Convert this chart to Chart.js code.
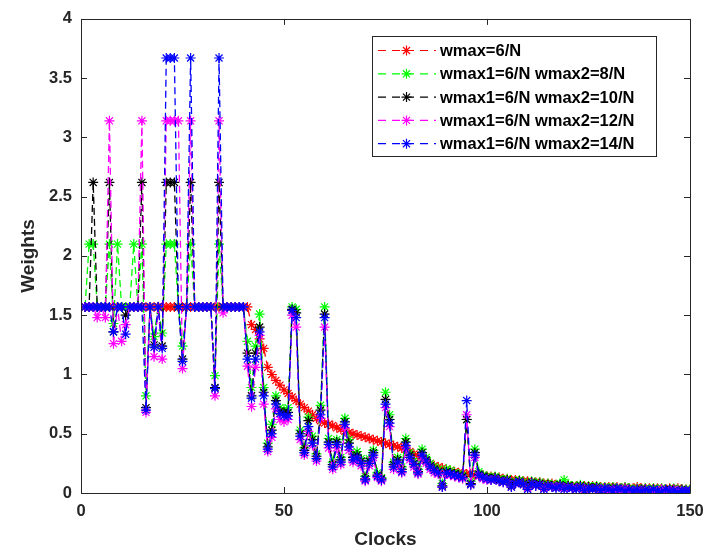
<!DOCTYPE html>
<html>
<head>
<meta charset="utf-8">
<script src="https://cdn.jsdelivr.net/npm/chart.js@4.4.0/dist/chart.umd.min.js"></script>
<style>
html,body{margin:0;padding:0;background:#fff}
canvas{display:block}
</style>
</head>
<body>
<canvas id="c" width="713" height="548"></canvas>
<script>
// Clock index (1..150) shared by every series
const clocks = Array.from({length: 150}, (_, i) => i + 1);
const xTicks = [0, 50, 100, 150];
const yTicks = [0, 0.5, 1, 1.5, 2, 2.5, 3, 3.5, 4];

const seriesNames = [
  'wmax=6/N',
  'wmax1=6/N wmax2=8/N',
  'wmax1=6/N wmax2=10/N',
  'wmax1=6/N wmax2=12/N',
  'wmax1=6/N wmax2=14/N'
];
const seriesColors = ['#ff0000', '#00ff00', '#000000', '#ff00ff', '#0000ff'];

// wmax=6/N
const wSingle = [
  1.57,1.57,1.57,1.57,1.57,1.57,1.57,1.57,1.57,1.57,
  1.57,1.57,1.57,1.57,1.57,1.57,1.57,1.57,1.57,1.57,
  1.57,1.57,1.57,1.57,1.57,1.57,1.57,1.57,1.57,1.57,
  1.57,1.57,1.57,1.57,1.57,1.57,1.57,1.57,1.57,1.57,
  1.57,1.42,1.38,1.30,1.22,1.06,1.00,0.95,0.91,0.87,
  0.84,0.81,0.78,0.75,0.72,0.69,0.66,0.63,0.61,0.59,
  0.58,0.57,0.55,0.54,0.52,0.51,0.50,0.49,0.48,0.47,
  0.46,0.45,0.44,0.43,0.42,0.41,0.40,0.39,0.38,0.37,
  0.35,0.33,0.31,0.29,0.27,0.25,0.23,0.22,0.21,0.20,
  0.19,0.18,0.17,0.17,0.16,0.16,0.15,0.15,0.15,0.14,
  0.14,0.13,0.13,0.12,0.12,0.11,0.11,0.10,0.10,0.10,
  0.09,0.09,0.09,0.08,0.08,0.08,0.07,0.07,0.07,0.07,
  0.06,0.06,0.06,0.06,0.05,0.06,0.05,0.05,0.05,0.05,
  0.05,0.05,0.04,0.05,0.04,0.04,0.05,0.04,0.04,0.04,
  0.04,0.04,0.04,0.03,0.04,0.03,0.04,0.03,0.03,0.03
];

// wmax1=6/N wmax2=8/N
const wPair8 = [
  1.57,2.10,2.10,1.57,1.57,1.57,2.10,1.43,2.10,1.57,
  1.57,1.57,2.10,1.57,2.10,0.82,1.57,1.32,1.57,1.35,
  2.10,2.10,2.10,1.57,1.24,1.57,2.10,1.57,1.57,1.57,
  1.57,1.57,0.99,2.10,1.57,1.57,1.57,1.57,1.57,1.57,
  1.28,0.89,1.24,1.51,0.89,0.42,0.58,0.82,0.72,0.70,
  0.72,1.57,1.55,0.53,0.38,0.64,0.48,0.33,0.74,1.57,
  0.46,0.26,0.45,0.30,0.63,0.45,0.33,0.35,0.29,0.14,
  0.29,0.36,0.17,0.13,0.85,0.66,0.26,0.30,0.22,0.46,
  0.34,0.27,0.20,0.37,0.30,0.25,0.22,0.20,0.08,0.20,
  0.19,0.17,0.16,0.15,0.62,0.10,0.37,0.18,0.15,0.14,
  0.13,0.14,0.12,0.11,0.12,0.07,0.10,0.11,0.09,0.06,
  0.10,0.08,0.09,0.05,0.08,0.07,0.06,0.08,0.11,0.07,
  0.06,0.05,0.07,0.04,0.06,0.05,0.06,0.04,0.05,0.04,
  0.05,0.04,0.04,0.05,0.04,0.03,0.04,0.03,0.04,0.03,
  0.04,0.03,0.04,0.03,0.03,0.04,0.03,0.03,0.03,0.03
];

// wmax1=6/N wmax2=10/N
const wPair10 = [
  1.57,1.57,2.62,1.57,1.57,1.57,2.62,1.36,1.57,1.57,
  1.50,1.57,1.57,1.57,2.62,0.72,1.57,1.25,1.57,1.24,
  2.62,2.62,2.62,1.57,1.13,1.57,2.62,1.57,1.57,1.57,
  1.57,1.57,0.89,2.62,1.57,1.57,1.57,1.57,1.57,1.57,
  1.18,0.82,1.18,1.40,0.85,0.39,0.53,0.78,0.69,0.68,
  0.68,1.55,1.52,0.50,0.36,0.61,0.45,0.31,0.70,1.51,
  0.43,0.24,0.43,0.28,0.60,0.42,0.30,0.32,0.27,0.12,
  0.27,0.34,0.15,0.12,0.79,0.62,0.24,0.28,0.20,0.43,
  0.32,0.25,0.18,0.34,0.28,0.23,0.20,0.18,0.06,0.18,
  0.17,0.16,0.15,0.14,0.62,0.08,0.34,0.16,0.14,0.13,
  0.12,0.13,0.11,0.10,0.11,0.06,0.09,0.10,0.08,0.05,
  0.09,0.07,0.08,0.04,0.07,0.06,0.05,0.07,0.05,0.06,
  0.05,0.04,0.06,0.03,0.05,0.04,0.05,0.03,0.04,0.03,
  0.04,0.03,0.03,0.04,0.03,0.02,0.03,0.03,0.03,0.02,
  0.03,0.02,0.03,0.02,0.03,0.03,0.02,0.03,0.02,0.02
];

// wmax1=6/N wmax2=12/N
const wPair12 = [
  1.57,1.57,1.57,1.48,1.57,1.48,3.14,1.26,1.57,1.28,
  1.42,1.57,1.57,1.57,3.14,0.68,1.57,1.15,1.57,1.13,
  3.14,3.14,3.14,3.14,1.05,1.57,3.14,1.57,1.57,1.57,
  1.57,1.57,0.82,3.14,1.52,1.57,1.57,1.57,1.57,1.57,
  1.07,0.73,1.06,1.33,0.75,0.35,0.47,0.71,0.62,0.60,
  0.62,1.50,1.40,0.45,0.32,0.52,0.40,0.27,0.63,1.40,
  0.38,0.20,0.38,0.24,0.55,0.36,0.26,0.28,0.23,0.10,
  0.23,0.30,0.13,0.10,0.72,0.56,0.20,0.24,0.17,0.38,
  0.28,0.22,0.16,0.30,0.25,0.20,0.17,0.16,0.05,0.16,
  0.15,0.14,0.13,0.12,0.66,0.07,0.30,0.14,0.12,0.11,
  0.11,0.12,0.10,0.09,0.10,0.05,0.08,0.09,0.07,0.04,
  0.08,0.06,0.07,0.04,0.06,0.05,0.05,0.06,0.04,0.05,
  0.04,0.04,0.05,0.03,0.04,0.03,0.04,0.03,0.04,0.02,
  0.03,0.03,0.02,0.04,0.02,0.02,0.03,0.02,0.03,0.02,
  0.02,0.02,0.03,0.02,0.02,0.03,0.02,0.02,0.02,0.02
];

// wmax1=6/N wmax2=14/N
const wPair14 = [
  1.57,1.57,1.57,1.57,1.57,1.57,1.57,1.36,1.57,1.57,
  1.34,1.57,1.57,1.57,1.57,0.70,1.57,1.23,1.57,1.22,
  3.67,3.67,3.67,1.57,1.11,1.57,3.67,1.57,1.57,1.57,
  1.57,1.57,0.88,3.67,1.57,1.57,1.57,1.57,1.57,1.57,
  1.13,0.80,1.13,1.36,0.82,0.37,0.50,0.75,0.67,0.65,
  0.65,1.54,1.48,0.48,0.34,0.56,0.42,0.29,0.66,1.48,
  0.41,0.22,0.41,0.26,0.58,0.39,0.28,0.30,0.25,0.11,
  0.25,0.32,0.14,0.11,0.75,0.59,0.22,0.26,0.18,0.40,
  0.30,0.24,0.17,0.32,0.27,0.22,0.19,0.17,0.05,0.17,
  0.16,0.15,0.14,0.13,0.78,0.07,0.32,0.15,0.13,0.12,
  0.11,0.12,0.10,0.09,0.10,0.05,0.08,0.09,0.07,0.03,
  0.08,0.06,0.07,0.03,0.06,0.05,0.04,0.06,0.03,0.05,
  0.04,0.03,0.05,0.02,0.04,0.03,0.04,0.02,0.04,0.03,
  0.02,0.04,0.03,0.02,0.03,0.02,0.03,0.01,0.03,0.02,
  0.03,0.02,0.01,0.03,0.02,0.02,0.01,0.02,0.02,0.02
];

const seriesValues = [wSingle, wPair8, wPair10, wPair12, wPair14];

const FONT = '"Liberation Sans", Arial, Helvetica, sans-serif';
const AXIS_COLOR = '#262626';

// Boxed axes with inward tick marks on all four sides
const boxAxes = {
  id: 'boxAxes',
  afterDatasetsDraw(chart) {
    const {ctx, chartArea: a, scales: {x, y}} = chart;
    const len = 6;
    ctx.save();
    ctx.strokeStyle = AXIS_COLOR;
    ctx.lineWidth = 1;
    ctx.beginPath();
    ctx.rect(Math.round(a.left) + 0.5, Math.round(a.top) + 0.5,
             Math.round(a.right - a.left), Math.round(a.bottom - a.top));
    x.ticks.forEach(t => {
      const px = Math.round(x.getPixelForValue(t.value)) + 0.5;
      ctx.moveTo(px, a.bottom); ctx.lineTo(px, a.bottom - len);
      ctx.moveTo(px, a.top); ctx.lineTo(px, a.top + len);
    });
    y.ticks.forEach(t => {
      const py = Math.round(y.getPixelForValue(t.value)) + 0.5;
      ctx.moveTo(a.left, py); ctx.lineTo(a.left + len, py);
      ctx.moveTo(a.right, py); ctx.lineTo(a.right - len, py);
    });
    ctx.stroke();
    ctx.restore();
  }
};

function drawAsterisk(ctx, cx, cy, r) {
  const d = r * Math.SQRT1_2;
  ctx.beginPath();
  ctx.moveTo(cx - r, cy); ctx.lineTo(cx + r, cy);
  ctx.moveTo(cx, cy - r); ctx.lineTo(cx, cy + r);
  ctx.moveTo(cx - d, cy - d); ctx.lineTo(cx + d, cy + d);
  ctx.moveTo(cx - d, cy + d); ctx.lineTo(cx + d, cy - d);
  ctx.stroke();
}

// Boxed legend in the upper right of the plot
const boxLegend = {
  id: 'boxLegend',
  afterDraw(chart) {
    const ctx = chart.ctx;
    const bx = 372.5, by = 36.5, bw = 284, bh = 120;
    ctx.save();
    ctx.fillStyle = '#ffffff';
    ctx.fillRect(bx, by, bw, bh);
    ctx.strokeStyle = AXIS_COLOR;
    ctx.lineWidth = 1;
    ctx.strokeRect(bx, by, bw, bh);
    ctx.font = 'bold 16.5px ' + FONT;
    ctx.textBaseline = 'middle';
    ctx.textAlign = 'left';
    seriesNames.forEach((name, i) => {
      const yy = 50.5 + i * 23.3;
      ctx.strokeStyle = seriesColors[i];
      ctx.lineWidth = 1.2;
      ctx.setLineDash([8, 6]);
      ctx.beginPath();
      ctx.moveTo(378, yy); ctx.lineTo(436, yy);
      ctx.stroke();
      ctx.setLineDash([]);
      drawAsterisk(ctx, 406.5, yy, 5);
      ctx.fillStyle = '#000000';
      ctx.fillText(name, 440, yy + 1);
    });
    ctx.restore();
  }
};

const datasets = seriesValues.map((vals, i) => ({
  label: seriesNames[i],
  data: clocks.map((c, k) => ({x: c, y: vals[k]})),
  borderColor: seriesColors[i],
  backgroundColor: seriesColors[i],
  borderWidth: 1.3,
  borderDash: [7, 4],
  pointStyle: 'star',
  pointRadius: 5,
  pointBorderWidth: 1.2,
  pointBorderColor: seriesColors[i],
  pointBackgroundColor: seriesColors[i],
  tension: 0,
  order: seriesNames.length - i
}));

new Chart(document.getElementById('c'), {
  type: 'line',
  data: {datasets},
  plugins: [boxAxes, boxLegend],
  options: {
    responsive: false,
    animation: false,
    devicePixelRatio: 1,
    layout: {padding: {top: 13, right: 23, left: 0, bottom: 0}},
    plugins: {legend: {display: false}, tooltip: {enabled: false}},
    scales: {
      x: {
        type: 'linear',
        min: 0, max: 150,
        afterBuildTicks: s => { s.ticks = xTicks.map(v => ({value: v})); },
        afterFit: s => { s.height = 55; },
        grid: {display: false, drawTicks: false},
        border: {display: false},
        ticks: {color: AXIS_COLOR, padding: 9, maxRotation: 0,
                callback: v => String(v),
                font: {family: FONT, size: 16.5, weight: 'bold'}},
        title: {display: true, text: 'Clocks', color: AXIS_COLOR,
                font: {family: FONT, size: 19, weight: 'bold', lineHeight: 1},
                padding: {top: 0, bottom: -1}}
      },
      y: {
        type: 'linear',
        min: 0, max: 4,
        afterBuildTicks: s => { s.ticks = yTicks.map(v => ({value: v})); },
        afterFit: s => { s.width = 81; },
        grid: {display: false, drawTicks: false},
        border: {display: false},
        ticks: {color: AXIS_COLOR, padding: 9,
                callback: v => String(v),
                font: {family: FONT, size: 16.5, weight: 'bold'}},
        title: {display: true, text: 'Weights', color: AXIS_COLOR,
                font: {family: FONT, size: 19, weight: 'bold', lineHeight: 1},
                padding: {top: 19, bottom: 0}}
      }
    }
  }
});
</script>
</body>
</html>
